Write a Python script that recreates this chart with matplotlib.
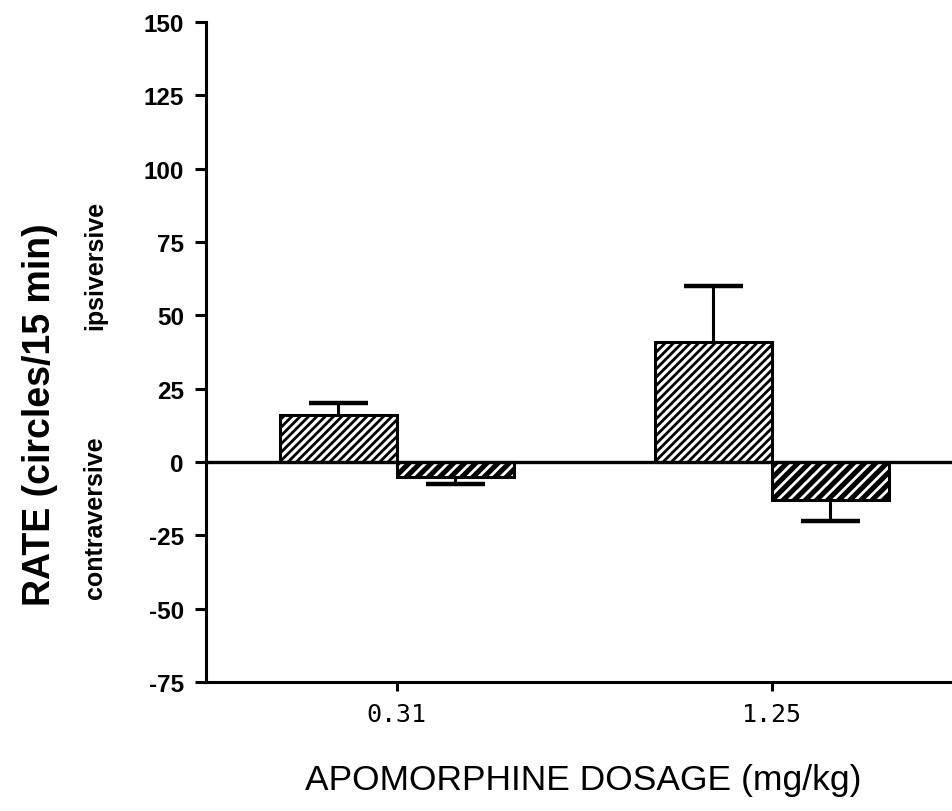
import numpy as np
import matplotlib.pyplot as plt

# apomorphine dose groups
doses = ['0.31', '1.25']
ipsi_rate = [16, 41]       # ipsiversive (positive)
ipsi_sem = [4, 19]
contra_rate = [-5, -13]    # contraversive (negative)
contra_sem = [2.4, 7]

plt.rcParams['hatch.linewidth'] = 2.0
plt.rcParams['axes.unicode_minus'] = False
plt.rcParams['font.family'] = ['Liberation Sans', 'DejaVu Sans']

fig = plt.figure(figsize=(9.53, 8.12), dpi=100)
ax = fig.add_axes([206/953, 129/812, 747/953, 660/812])

x = np.arange(len(doses))
w = 0.312
cap = w / 4

# ipsiversive bars: white with black hatch
ax.bar(x - w/2, ipsi_rate, w, facecolor='white', edgecolor='black',
       hatch='////', linewidth=2.2, zorder=2)
# contraversive bars: dark with white hatch
ax.bar(x + w/2, contra_rate, w, facecolor='black', edgecolor='white',
       hatch='///', linewidth=0, zorder=2)
ax.bar(x + w/2, contra_rate, w, fill=False, edgecolor='black',
       linewidth=2.2, zorder=2)

# one sided error bars (away from zero)
ipsi_top = np.array(ipsi_rate) + np.array(ipsi_sem)
contra_bot = np.array(contra_rate) - np.array(contra_sem)
ax.vlines(x - w/2, ipsi_rate, ipsi_top, color='black', linewidth=2.2, zorder=1)
ax.hlines(ipsi_top, x - w/2 - cap, x - w/2 + cap, color='black', linewidth=3.2)
ax.vlines(x + w/2, contra_rate, contra_bot, color='black', linewidth=2.2, zorder=1)
ax.hlines(contra_bot, x + w/2 - cap, x + w/2 + cap, color='black', linewidth=3.2)

ax.axhline(0, color='black', linewidth=2.4, zorder=3)

ax.set_xlim(-0.509, 1.483)
ax.set_ylim(-75, 150)
yt = np.arange(-75, 151, 25)
ax.set_yticks(yt)
ax.set_yticklabels([str(v) for v in yt], fontsize=17.5, fontweight='bold')
ax.set_xticks(x)
ax.set_xticklabels(doses, family='DejaVu Sans Mono', fontsize=18)

ax.spines['top'].set_visible(False)
ax.spines['right'].set_visible(False)
ax.spines['left'].set_linewidth(2.2)
ax.spines['bottom'].set_linewidth(2.2)
ax.tick_params(axis='y', length=8, width=2.2, pad=8)
ax.tick_params(axis='x', length=6.5, width=2.2, pad=8)

fig.text(583/953, 1 - 781/812, 'APOMORPHINE DOSAGE (mg/kg)', fontsize=25.5,
         ha='center', va='center')
fig.text(40/953, 1 - 415/812, 'RATE (circles/15 min)', fontsize=27,
         fontweight='bold', rotation=90, ha='center', va='center')
fig.text(95/953, 1 - 265/812, 'ipsiversive', fontsize=18, fontweight='bold',
         rotation=90, ha='center', va='center')
fig.text(95/953, 1 - 518/812, 'contraversive', fontsize=18, fontweight='bold',
         rotation=90, ha='center', va='center')

fig.savefig('out.png', dpi=100)
